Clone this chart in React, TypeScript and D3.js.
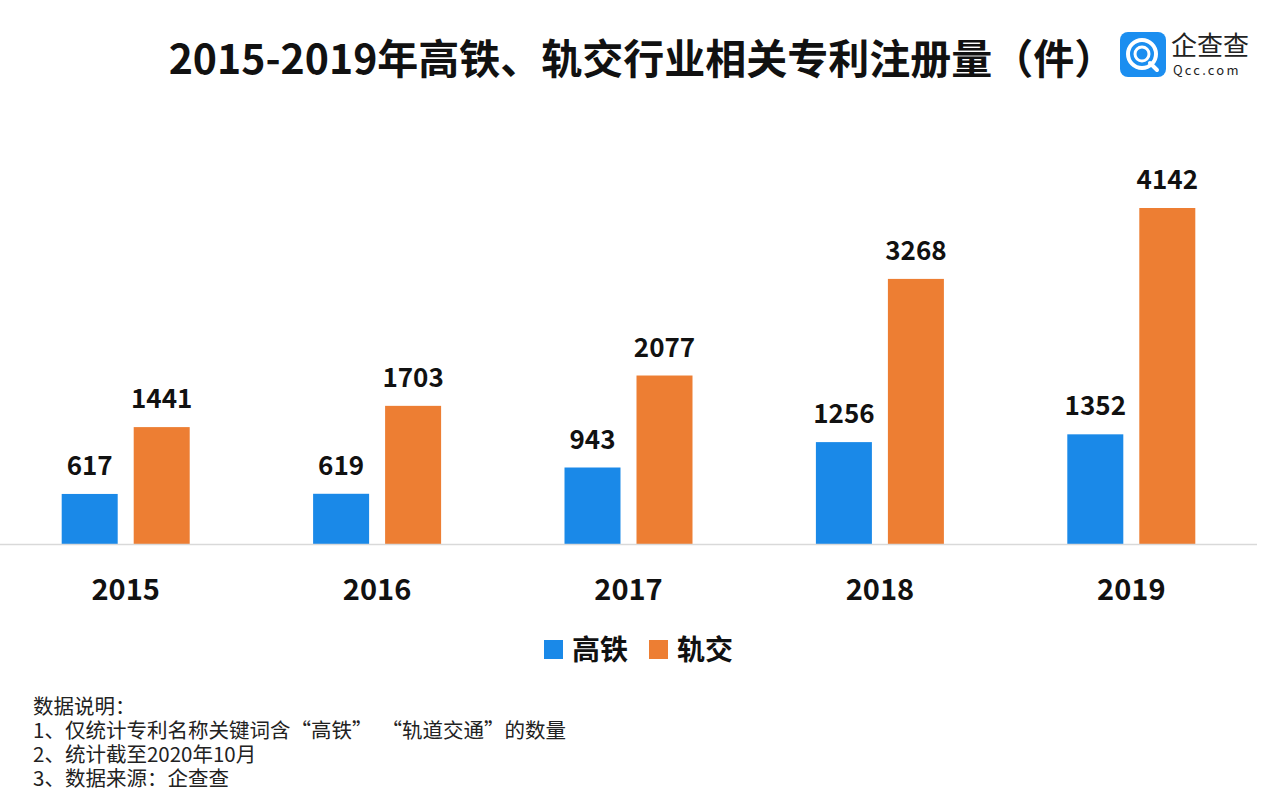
import React from "react";
import * as d3 from "d3";

const years = ["2015", "2016", "2017", "2018", "2019"];
const seriesNames = ["高铁", "轨交"];
const gaotie = [617, 619, 943, 1256, 1352];
const guijiao = [1441, 1703, 2077, 3268, 4142];
const notes = [
  "数据说明：",
  "1、仅统计专利名称关键词含“高铁”  “轨道交通”的数量",
  "2、统计截至2020年10月",
  "3、数据来源：企查查",
];

const W = 1267, H = 806;
const FONT = "'Noto Sans CJK SC', 'Noto Sans', sans-serif";
const BLUE = "#1A89E8";
const ORANGE = "#ED7E33";

export default function App() {
  const x = d3.scaleBand().domain(years).range([0, 1257]);
  const baseY = 544;
  const y = d3.scaleLinear().domain([0, 5000]).range([baseY, baseY - 5000 * 0.08112]);
  const barW = 56;
  const gap = 16;
  const series = [
    { name: seriesNames[0], values: gaotie, color: BLUE, off: -gap / 2 - barW },
    { name: seriesNames[1], values: guijiao, color: ORANGE, off: gap / 2 },
  ];
  return (
    <svg width={W} height={H} style={{ position: "absolute", left: 0, top: 0, background: "#fff" }} fontFamily={FONT}>
      <rect width={W} height={H} fill="#fff" />
      <text x={642} y={74} textAnchor="middle" fontSize={41} fontWeight={700} fill="#111">
        2015-2019年高铁、轨交行业相关专利注册量（件）
      </text>
      {/* logo */}
      <g>
        <rect x={1120} y={32} width={46} height={45} rx={8} fill="#1B8EF0" />
        <circle cx={1142} cy={54} r={14} fill="none" stroke="#fff" strokeWidth={4} />
        <circle cx={1142} cy={54} r={7} fill="none" stroke="#fff" strokeWidth={3} />
        <line x1={1150} y1={63} x2={1157} y2={70} stroke="#fff" strokeWidth={4} strokeLinecap="round" />
        <text x={1171} y={55} fontSize={26} fill="#222" fontWeight={400}>企查查</text>
        <text x={1173} y={75} fontSize={13} fill="#222" letterSpacing={2.2}>Qcc.com</text>
      </g>
      {/* bars */}
      {series.map((s) =>
        years.map((yr, i) => {
          const cx = (x(yr) as number) + x.bandwidth() / 2;
          const bx = cx + s.off;
          return (
            <g key={s.name + yr}>
              <rect x={bx} y={y(s.values[i])} width={barW} height={baseY - y(s.values[i])} fill={s.color} />
              <text x={bx + barW / 2} y={y(s.values[i]) - 19} textAnchor="middle" fontSize={26} fontWeight={700} fill="#111">
                {s.values[i]}
              </text>
            </g>
          );
        })
      )}
      <line x1={0} x2={1257} y1={baseY + 0.5} y2={baseY + 0.5} stroke="#d9d9d9" strokeWidth={1.5} />
      {years.map((yr) => (
        <text key={yr} x={(x(yr) as number) + x.bandwidth() / 2} y={600} textAnchor="middle" fontSize={29} fontWeight={700} fill="#111">
          {yr}
        </text>
      ))}
      {/* legend */}
      <rect x={544} y={640} width={19} height={19} fill={BLUE} />
      <text x={572} y={660} fontSize={28} fontWeight={700} fill="#111">{seriesNames[0]}</text>
      <rect x={649} y={640} width={19} height={19} fill={ORANGE} />
      <text x={677} y={660} fontSize={28} fontWeight={700} fill="#111">{seriesNames[1]}</text>
      {notes.map((n, i) => (
        <text key={i} x={33} y={714 + i * 24} fontSize={20.5} fill="#222" style={{ whiteSpace: "pre" }}>
          {n}
        </text>
      ))}
    </svg>
  );
}
